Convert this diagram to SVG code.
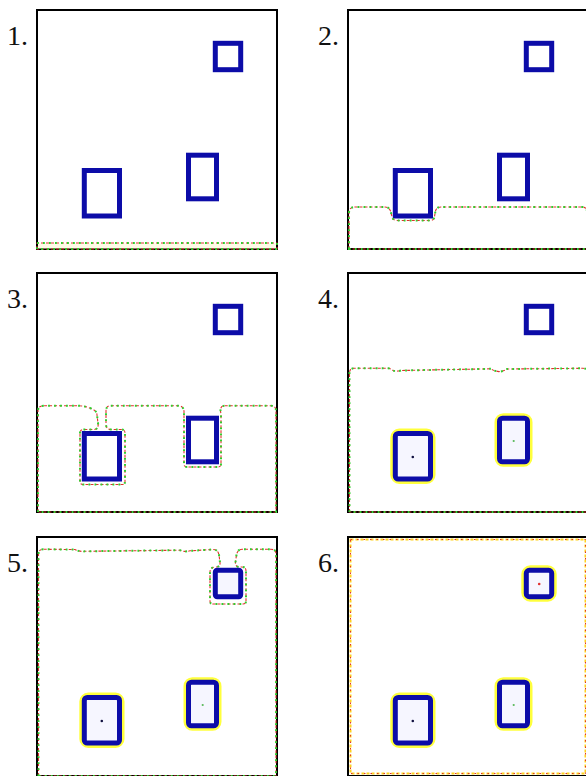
<svg xmlns="http://www.w3.org/2000/svg" xmlns:xlink="http://www.w3.org/1999/xlink" width="586" height="776" viewBox="0 0 586 776">
  <style>
    .lbl { font-family: "Liberation Serif", "Times New Roman", serif; font-size: 28px; fill: #111; }
    .frame { fill: #fff; stroke: #000; stroke-width: 2; }
    .obj { fill: none; stroke: #0c0ca8; stroke-width: 5; }
    .objr { fill: #f6f6ff; stroke: #0c0ca8; stroke-width: 5; }
    .halo { fill: none; stroke: #ffff3c; stroke-width: 10; }
    .cr { fill: none; stroke: #e0342c; stroke-width: 1.1; stroke-dasharray: 3 2; }
    .cg { fill: none; stroke: #2ed02e; stroke-width: 2; stroke-dasharray: 1.8 4.2; }
    .fy { fill: none; stroke: #ffd21e; stroke-width: 2; stroke-dasharray: 3 2; }
    .fr { fill: none; stroke: #e0342c; stroke-width: 1; stroke-dasharray: 1.5 5; }
  </style>
  <defs>
    <!-- evolving contour shapes, panel-local coordinates -->
    <path id="c1" d="M37,249 L37,243 L277,243 L277,249 Z"/>
    <path id="c2" d="M38,249 L38,213 Q38,207 44,207 L74,207 Q78,207 79.5,211 L81,216.5 Q82,220.5 86,220.5 L119,220.5 Q123,220.5 123.5,216.5 L124.5,211 Q125.5,207 130,207 L271,207 Q276,207 276,212 L276,249 Z"/>
    <path id="c3" d="M38,249 L38,148 Q38,142.7 44,142.7 L78,142.7 Q86,143 92,146 Q97,148 97,152 L98,160 Q99,166 94,166.5 L84,166.5 Q80,166.5 80,170 L80,218.5 Q80,221.5 83,221.5 L122,221.5 Q125,221.5 125,218.5 L125,170 Q125,166.5 121,166.5 L111,166.5 Q106,166.5 106,161 L106,148 Q106,142.7 111,142.7 L178,142.7 Q183,142.7 184,148 L184,201 Q184,204 187,204 L218,204 Q221,204 221,201 L221,151 Q219,142.7 225,142.7 L271,142.7 Q276,142.7 276,148 L276,249 Z"/>
    <path id="c4" d="M38.5,249 L38.5,110 Q38.5,105.3 43,105.3 L77,105.3 Q80,105.5 82,107.5 Q85,108.8 90,107.5 L180,105.8 Q183,108 188,108.6 Q193,108.3 196,106 L272,105.3 Q277,105.3 277,110 L277,249 Z"/>
    <path id="c5" d="M38.5,249 L38.5,27 Q38.5,22.3 43,22.3 L75,22.5 Q80,25 85,24.3 L180,23.2 Q185,25.3 190,23.8 L213,22.5 Q218,22.5 219,28 L220,35.5 Q220.5,40 216,40 Q210,40 210,45 L210,74 Q210,77 213,77 L243,77 Q246,77 246,74 L246,44 Q246,40 242,40 L239,40 Q235,39.5 235.5,35 L236.5,28 Q237.5,22.3 242,22.3 L271,22.3 Q276,22.3 276,27 L276,249 Z"/>
  </defs>

  <!-- panel 1 -->
  <g id="panel1">
    <rect class="frame" x="37" y="10" width="240" height="239"/>
    <rect x="38" y="243.5" width="238" height="5" fill="#fffbe6"/>
    <g id="p1-objects">
      <rect class="obj" x="84.3" y="170.5" width="35.2" height="45.5"/>
      <rect class="obj" x="188.5" y="155.2" width="28" height="43.6"/>
      <rect class="obj" x="215.3" y="43.3" width="25.4" height="26.4"/>
    </g>
    <g id="p1-contour">
      <use xlink:href="#c1" class="cr"/>
      <use xlink:href="#c1" class="cg"/>
    </g>
    <text class="lbl" x="7" y="45">1.</text>
  </g>

  <!-- panel 2 -->
  <g id="panel2" transform="translate(311,0)">
    <rect class="frame" x="37" y="10" width="240" height="239"/>
    <g id="p2-objects">
      <rect class="obj" x="84.3" y="170.5" width="35.2" height="45.5"/>
      <rect class="obj" x="188.5" y="155.2" width="28" height="43.6"/>
      <rect class="obj" x="215.3" y="43.3" width="25.4" height="26.4"/>
    </g>
    <g id="p2-contour">
      <use xlink:href="#c2" class="cr"/>
      <use xlink:href="#c2" class="cg"/>
    </g>
    <text class="lbl" x="7" y="45">2.</text>
  </g>

  <!-- panel 3 -->
  <g id="panel3" transform="translate(0,263)">
    <rect class="frame" x="37" y="10" width="240" height="239"/>
    <g id="p3-objects">
      <rect class="obj" x="84.3" y="170.5" width="35.2" height="45.5"/>
      <rect class="obj" x="188.5" y="155.2" width="28" height="43.6"/>
      <rect class="obj" x="215.3" y="43.3" width="25.4" height="26.4"/>
    </g>
    <g id="p3-contour">
      <use xlink:href="#c3" class="cr"/>
      <use xlink:href="#c3" class="cg"/>
    </g>
    <text class="lbl" x="7" y="45">3.</text>
  </g>

  <!-- panel 4 -->
  <g id="panel4" transform="translate(311,263)">
    <rect class="frame" x="37" y="10" width="240" height="239"/>
    <g id="p4-contour">
      <use xlink:href="#c4" class="cr"/>
      <use xlink:href="#c4" class="cg"/>
    </g>
    <g id="p4-objects">
      <rect class="halo" x="84.3" y="170.5" width="35.2" height="45.5" rx="4"/>
      <rect class="objr" x="84.3" y="170.5" width="35.2" height="45.5" rx="3"/>
      <circle cx="101.8" cy="194" r="1.3" fill="#101040"/>
      <rect class="halo" x="188.5" y="155.2" width="28" height="43.6" rx="4"/>
      <rect class="objr" x="188.5" y="155.2" width="28" height="43.6" rx="3"/>
      <circle cx="202.7" cy="178" r="1.1" fill="#58b858"/>
      <rect class="obj" x="215.3" y="43.3" width="25.4" height="26.4"/>
    </g>
    <text class="lbl" x="7" y="45">4.</text>
  </g>

  <!-- panel 5 -->
  <g id="panel5" transform="translate(0,527)">
    <rect class="frame" x="37" y="10" width="240" height="239"/>
    <g id="p5-contour">
      <use xlink:href="#c5" class="cr"/>
      <use xlink:href="#c5" class="cg"/>
    </g>
    <g id="p5-objects">
      <rect class="halo" x="84.3" y="170.5" width="35.2" height="45.5" rx="4"/>
      <rect class="objr" x="84.3" y="170.5" width="35.2" height="45.5" rx="3"/>
      <circle cx="101.8" cy="194" r="1.3" fill="#101040"/>
      <rect class="halo" x="188.5" y="155.2" width="28" height="43.6" rx="4"/>
      <rect class="objr" x="188.5" y="155.2" width="28" height="43.6" rx="3"/>
      <circle cx="202.7" cy="178" r="1.1" fill="#58b858"/>
      <rect class="objr" x="215.3" y="43.3" width="25.4" height="26.4" rx="2"/>
    </g>
    <text class="lbl" x="7" y="45">5.</text>
  </g>

  <!-- panel 6 -->
  <g id="panel6" transform="translate(311,527)">
    <rect class="frame" x="37" y="10" width="240" height="239"/>
    <g id="p6-contour">
      <rect class="fy" x="39.5" y="12.5" width="235" height="234"/>
      <rect class="fr" x="39.5" y="12.5" width="235" height="234"/>
    </g>
    <g id="p6-objects">
      <rect class="halo" x="84.3" y="170.5" width="35.2" height="45.5" rx="4"/>
      <rect class="objr" x="84.3" y="170.5" width="35.2" height="45.5" rx="3"/>
      <circle cx="101.8" cy="194" r="1.3" fill="#101040"/>
      <rect class="halo" x="188.5" y="155.2" width="28" height="43.6" rx="4"/>
      <rect class="objr" x="188.5" y="155.2" width="28" height="43.6" rx="3"/>
      <circle cx="202.7" cy="178" r="1.1" fill="#58b858"/>
      <rect class="halo" x="215.3" y="43.3" width="25.4" height="26.4" rx="4"/>
      <rect class="objr" x="215.3" y="43.3" width="25.4" height="26.4" rx="3"/>
      <circle cx="228.2" cy="57" r="1.3" fill="#e03030"/>
    </g>
    <text class="lbl" x="7" y="45">6.</text>
  </g>
</svg>
